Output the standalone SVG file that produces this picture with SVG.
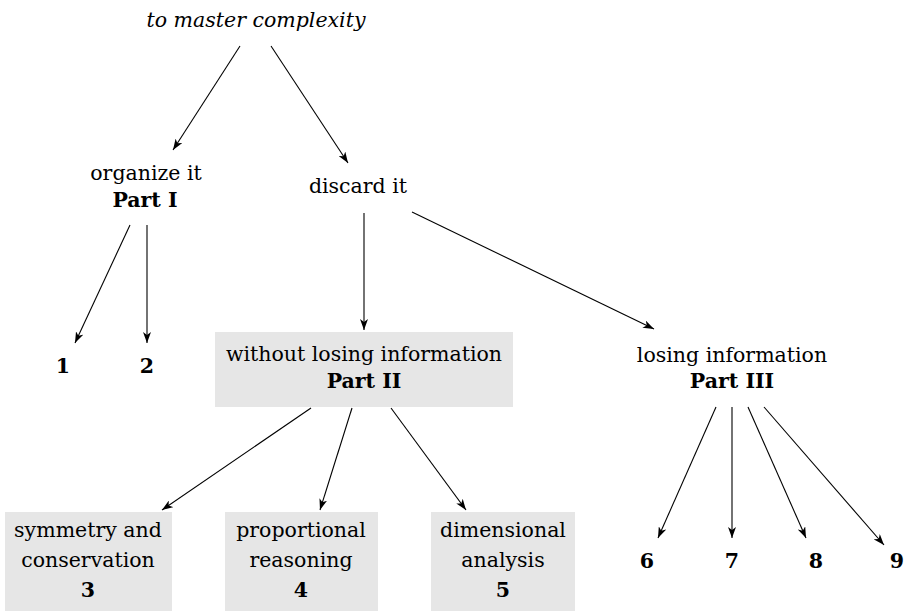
<svg xmlns="http://www.w3.org/2000/svg" width="907" height="611" viewBox="0 0 907 611">
<defs>
<marker id="arr" markerWidth="12" markerHeight="8" refX="11" refY="4" orient="auto" markerUnits="userSpaceOnUse">
<path d="M0,0 L11,4 L0,8 L3,4 z" fill="#000"/>
</marker>
<style>
text{font-family:"DejaVu Serif","Liberation Serif",serif;font-size:20.5px;fill:#000;text-anchor:middle}
.b{font-weight:bold}
.i{font-style:italic}
.box{fill:#e6e6e6}
line{stroke:#000;stroke-width:1.1;marker-end:url(#arr)}
</style>
</defs>
<rect width="907" height="611" fill="#fff"/>
<g id="root"><text class="i" x="256" y="27">to master complexity</text></g>
<g id="organize"><text x="146" y="180">organize it</text><text class="b" x="145" y="207">Part I</text></g>
<g id="discard"><text x="358" y="193">discard it</text></g>
<g id="n1"><text class="b" x="63" y="373">1</text></g>
<g id="n2"><text class="b" x="147" y="373">2</text></g>
<g id="without"><rect class="box" x="215" y="332" width="298" height="75"/><text x="364" y="361">without losing information</text><text class="b" x="364" y="388">Part II</text></g>
<g id="losing"><text x="732" y="362">losing information</text><text class="b" x="732" y="388">Part III</text></g>
<g id="n3"><rect class="box" x="5" y="512" width="167" height="99"/><text x="88" y="537">symmetry and</text><text x="88" y="567">conservation</text><text class="b" x="88" y="597">3</text></g>
<g id="n4"><rect class="box" x="225" y="512" width="153" height="99"/><text x="301" y="537">proportional</text><text x="301" y="567">reasoning</text><text class="b" x="301" y="597">4</text></g>
<g id="n5"><rect class="box" x="431" y="512" width="144" height="99"/><text x="503" y="537">dimensional</text><text x="503" y="567">analysis</text><text class="b" x="503" y="597">5</text></g>
<g id="n6"><text class="b" x="647" y="568">6</text></g>
<g id="n7"><text class="b" x="732" y="568">7</text></g>
<g id="n8"><text class="b" x="816" y="568">8</text></g>
<g id="n9"><text class="b" x="897" y="568">9</text></g>
<g id="connectors">
<line x1="240" y1="46" x2="173" y2="150"/>
<line x1="271" y1="46" x2="348" y2="163"/>
<line x1="130" y1="225" x2="75" y2="343"/>
<line x1="147" y1="225" x2="147" y2="343"/>
<line x1="364" y1="213" x2="364" y2="330"/>
<line x1="412" y1="212" x2="654" y2="329"/>
<line x1="311" y1="408" x2="162" y2="510"/>
<line x1="352" y1="408" x2="320" y2="510"/>
<line x1="391" y1="408" x2="466" y2="510"/>
<line x1="716" y1="407" x2="658" y2="538"/>
<line x1="732" y1="407" x2="732" y2="538"/>
<line x1="748" y1="407" x2="806" y2="538"/>
<line x1="764" y1="407" x2="884" y2="545"/>
</g>
</svg>
